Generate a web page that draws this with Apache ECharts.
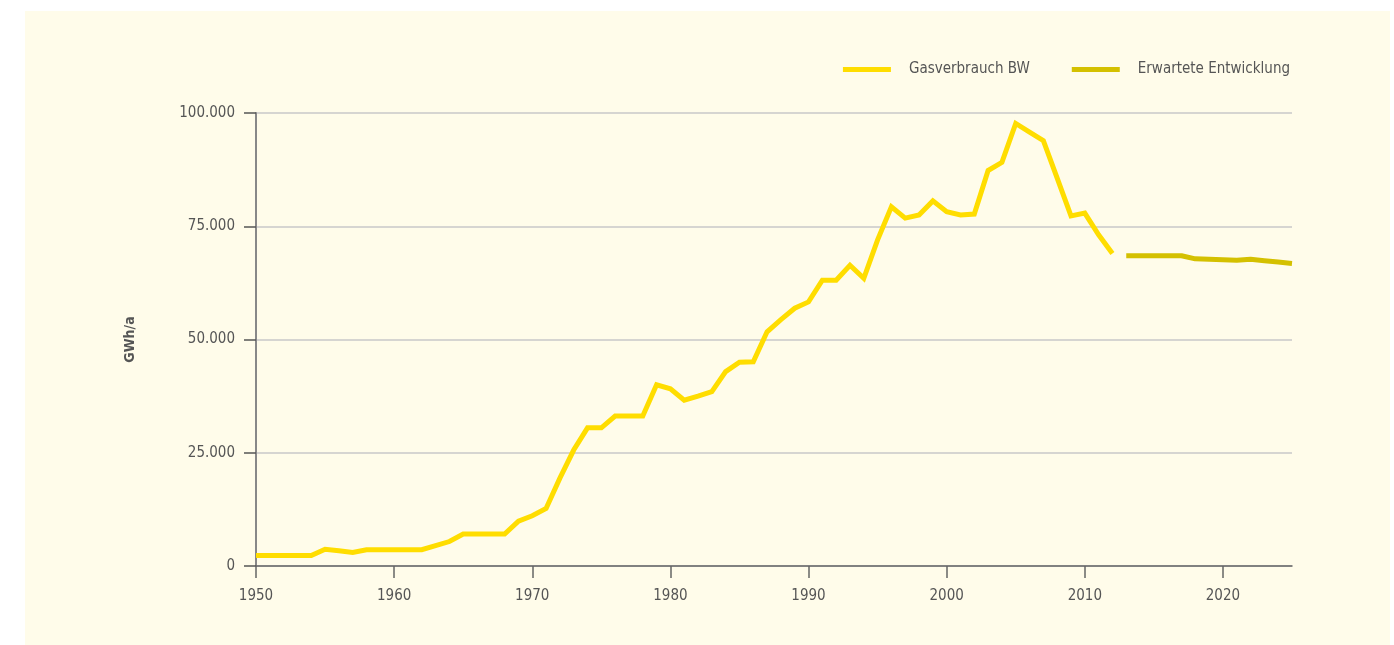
<!DOCTYPE html>
<html>
<head>
<meta charset="utf-8">
<script src="https://cdn.jsdelivr.net/npm/echarts@6/dist/echarts.min.js"></script>
<style>
html,body{margin:0;padding:0;background:#ffffff;}
#panel{position:absolute;left:25px;top:11px;width:1365px;height:634px;background:#fffcea;}
#chart{position:absolute;left:0;top:0;width:1394px;height:645px;}
</style>
</head>
<body>
<div id="panel"></div>
<div id="chart"></div>
<script>
const histYears = [1950,1951,1952,1953,1954,1955,1956,1957,1958,1959,1960,1961,1962,1963,1964,1965,1966,1967,1968,1969,1970,1971,1972,1973,1974,1975,1976,1977,1978,1979,1980,1981,1982,1983,1984,1985,1986,1987,1988,1989,1990,1991,1992,1993,1994,1995,1996,1997,1998,1999,2000,2001,2002,2003,2004,2005,2006,2007,2008,2009,2010,2011,2012];
const histValues = [2300,2300,2300,2300,2300,3700,3350,3000,3600,3600,3600,3600,3600,4500,5400,7050,7050,7050,7050,9900,11100,12700,19400,25600,30500,30500,33100,33100,33100,40000,39100,36600,37500,38500,42900,45000,45100,51700,54400,56900,58300,63100,63100,66400,63500,72000,79300,76800,77500,80600,78200,77500,77700,87300,89100,97700,95800,93900,85600,77300,77900,73100,69000];
const fcYears = [2013,2014,2015,2016,2017,2018,2019,2020,2021,2022,2023,2024,2025];
const fcValues = [68500,68500,68500,68500,68500,67800,67700,67600,67500,67700,67400,67100,66800];
const xTicks = [1950,1960,1970,1980,1990,2000,2010,2020];
const yTicks = [0,25000,50000,75000,100000];
const seriesNames = ['Gasverbrauch BW','Erwartete Entwicklung'];

const FONT = '"Liberation Sans Narrow","DejaVu Sans Condensed","Roboto",sans-serif';
const chart = echarts.init(document.getElementById('chart'));
function fmt(v){ return v === 0 ? '0' : String(v).replace(/(\d)(?=(\d{3})+$)/g,'$1.'); }
chart.setOption({
  backgroundColor: 'transparent',
  animation: false,
  grid: {left: 256, right: 102, top: 113, bottom: 79},
  legend: {
    right: 99, top: 57,
    itemWidth: 48, itemHeight: 5, itemGap: 42,
    icon: 'rect',
    textStyle: {fontFamily: FONT, fontSize: 15, color: '#555555', padding: [0,0,0,13]},
    data: seriesNames
  },
  xAxis: {
    type: 'value', min: 1950, max: 2025, interval: 10,
    axisLine: {show: true, lineStyle: {color: '#666666', width: 1.5}},
    axisTick: {show: true, inside: false, length: 12, customValues: xTicks, lineStyle: {color: '#666666', width: 1.5}},
    axisLabel: {fontFamily: FONT, fontSize: 15, color: '#555555', margin: 23, customValues: xTicks, formatter: v => String(v)},
    splitLine: {show: false}
  },
  yAxis: {
    type: 'value', min: 0, max: 100000, interval: 25000,
    name: 'GWh/a', nameLocation: 'middle', nameGap: 119, nameRotate: 90,
    nameTextStyle: {fontFamily: FONT, fontSize: 14, fontWeight: 'bold', color: '#555555'},
    axisLine: {show: true, lineStyle: {color: '#888888', width: 2}},
    axisTick: {show: true, inside: false, length: 12, customValues: yTicks, lineStyle: {color: '#555555', width: 1.5}},
    axisLabel: {fontFamily: FONT, fontSize: 15, color: '#555555', margin: 21, customValues: yTicks, formatter: v => fmt(v)},
    splitLine: {show: true, lineStyle: {color: '#c8c8c8', width: 1.5}}
  },
  series: [
    {
      name: seriesNames[0], type: 'line', showSymbol: false, symbol: 'none',
      data: histYears.map((y,i) => [y, histValues[i]]),
      lineStyle: {color: '#ffdd00', width: 5, join: 'miter'},
      itemStyle: {color: '#ffdd00'}
    },
    {
      name: seriesNames[1], type: 'line', showSymbol: false, symbol: 'none',
      data: fcYears.map((y,i) => [y, fcValues[i]]),
      lineStyle: {color: '#d4c000', width: 5},
      itemStyle: {color: '#d4c000'}
    }
  ]
});
</script>
</body>
</html>
